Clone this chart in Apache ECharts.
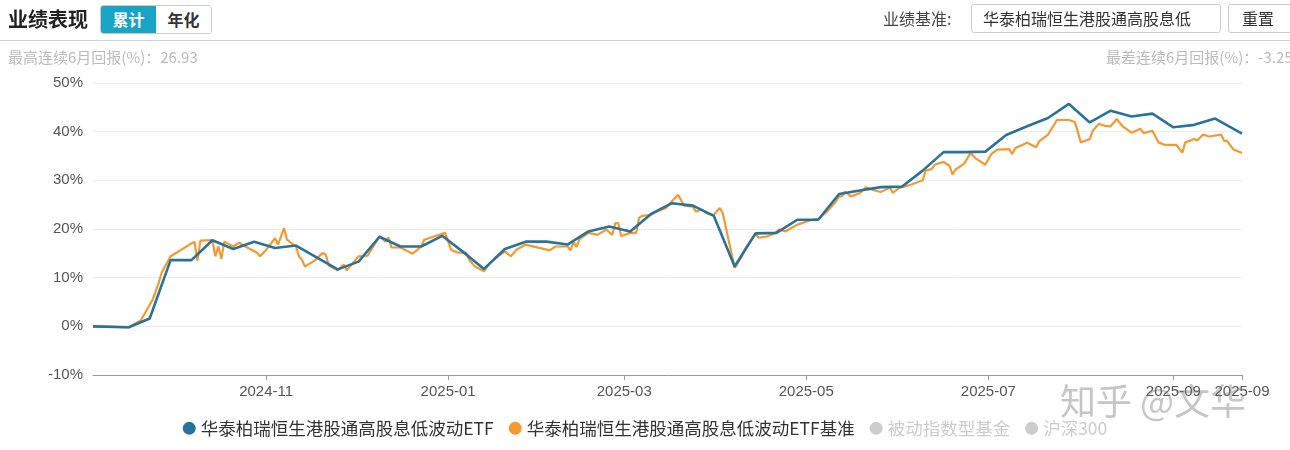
<!DOCTYPE html>
<html><head><meta charset="utf-8">
<script src="https://cdn.jsdelivr.net/npm/echarts@6/dist/echarts.min.js"></script>
<style>
html,body{margin:0;padding:0;width:1290px;height:450px;overflow:hidden;background:#fff;font-family:"Noto Sans CJK SC","Liberation Sans",sans-serif;}
#chart{position:absolute;left:0;top:0;width:1290px;height:450px;}
.abs{position:absolute;white-space:nowrap;z-index:5;}
#title{left:8px;top:4px;font-size:20px;font-weight:bold;color:#222;line-height:30px;}
#tabs{left:100px;top:5px;height:29px;border:1px solid #ccc;border-radius:3px;display:flex;overflow:hidden;box-sizing:border-box;width:112px;}
#tabs span{display:block;width:55px;text-align:center;font-size:16px;font-weight:bold;line-height:27px;}
.on{background:#18a4c4;color:#fff;}
.off{background:#fff;color:#333;}
#benchLabel{left:883px;top:4px;font-size:16px;color:#444;line-height:29px;}
#benchBox{left:971px;top:4px;width:250px;height:29px;border:1px solid #ccc;border-radius:3px;font-size:16px;color:#333;line-height:27px;padding-left:11px;overflow:hidden;box-sizing:border-box;}
#reset{left:1228px;top:4px;width:70px;height:29px;border:1px solid #ccc;border-radius:3px;font-size:16px;color:#333;line-height:27px;padding-left:13px;box-sizing:border-box;}
#hr{left:0;top:40px;width:1290px;height:1px;background:#d0d0d0;}
#best{left:8px;top:47px;font-size:15px;color:#bbb;line-height:20px;}
#worst{left:1106px;top:47px;font-size:15px;color:#bbb;line-height:20px;}
</style></head>
<body>
<div id="chart"></div>
<div class="abs" id="title">业绩表现</div>
<div class="abs" id="tabs"><span class="on">累计</span><span class="off">年化</span></div>
<div class="abs" id="benchLabel">业绩基准:</div>
<div class="abs" id="benchBox">华泰柏瑞恒生港股通高股息低</div>
<div class="abs" id="reset">重置</div>
<div class="abs" id="hr"></div>
<div class="abs" id="best">最高连续6月回报(%)：26.93</div>
<div class="abs" id="worst">最差连续6月回报(%)：-3.25</div>
<script>
const seriesNames = ['华泰柏瑞恒生港股通高股息低波动ETF', '华泰柏瑞恒生港股通高股息低波动ETF基准', '被动指数型基金', '沪深300'];
const seriesColors = ['#2a729b', '#f3992f', '#ccc', '#ccc'];

const etfDates = ['2024-09-04','2024-09-16','2024-09-23','2024-09-30','2024-10-07','2024-10-14','2024-10-21','2024-10-28','2024-11-04','2024-11-11','2024-11-25','2024-12-02','2024-12-09','2024-12-16','2024-12-23','2024-12-30','2025-01-06','2025-01-13','2025-01-20','2025-01-27','2025-02-03','2025-02-10','2025-02-17','2025-02-24','2025-03-03','2025-03-10','2025-03-17','2025-03-24','2025-03-31','2025-04-07','2025-04-14','2025-04-21','2025-04-28','2025-05-05','2025-05-12','2025-05-19','2025-05-26','2025-06-02','2025-06-09','2025-06-16','2025-06-23','2025-06-30','2025-07-07','2025-07-14','2025-07-21','2025-07-28','2025-08-04','2025-08-11','2025-08-18','2025-08-25','2025-09-01','2025-09-08','2025-09-15','2025-09-24'];
const etfValues = [0,-0.2,1.6,13.6,13.6,17.7,15.9,17.4,16.1,16.6,11.7,13.3,18.4,16.4,16.4,18.6,15.3,11.8,15.9,17.4,17.4,16.8,19.5,20.5,19.5,23.1,25.3,24.8,22.7,12.3,19.1,19.2,21.9,21.9,27.2,27.9,28.6,28.7,32.0,35.8,35.8,35.9,39.3,41.1,42.8,45.7,41.9,44.3,43.1,43.7,40.9,41.4,42.7,39.6];

const benchDates = ['2024-09-04','2024-09-16','2024-09-20','2024-09-24','2024-09-26','2024-09-27','2024-09-30','2024-10-08','2024-10-09','2024-10-10','2024-10-14','2024-10-15','2024-10-16','2024-10-17','2024-10-18','2024-10-21','2024-10-23','2024-10-25','2024-10-29','2024-10-30','2024-11-01','2024-11-04','2024-11-05','2024-11-07','2024-11-08','2024-11-11','2024-11-12','2024-11-13','2024-11-14','2024-11-17','2024-11-20','2024-11-21','2024-11-22','2024-11-25','2024-11-27','2024-11-28','2024-12-02','2024-12-05','2024-12-09','2024-12-11','2024-12-12','2024-12-13','2024-12-16','2024-12-18','2024-12-20','2024-12-23','2024-12-24','2024-12-28','2024-12-31','2025-01-02','2025-01-04','2025-01-07','2025-01-08','2025-01-10','2025-01-13','2025-01-15','2025-01-18','2025-01-20','2025-01-22','2025-01-24','2025-01-27','2025-02-04','2025-02-06','2025-02-10','2025-02-11','2025-02-12','2025-02-13','2025-02-14','2025-02-17','2025-02-20','2025-02-23','2025-02-25','2025-02-26','2025-02-27','2025-02-28','2025-03-03','2025-03-05','2025-03-06','2025-03-07','2025-03-10','2025-03-12','2025-03-15','2025-03-17','2025-03-19','2025-03-20','2025-03-21','2025-03-24','2025-03-25','2025-03-27','2025-03-29','2025-03-31','2025-04-02','2025-04-03','2025-04-07','2025-04-09','2025-04-11','2025-04-14','2025-04-15','2025-04-18','2025-04-20','2025-04-22','2025-04-24','2025-04-26','2025-04-28','2025-05-03','2025-05-05','2025-05-08','2025-05-11','2025-05-12','2025-05-13','2025-05-14','2025-05-16','2025-05-19','2025-05-21','2025-05-23','2025-05-26','2025-05-29','2025-05-30','2025-06-01','2025-06-05','2025-06-09','2025-06-10','2025-06-12','2025-06-13','2025-06-16','2025-06-18','2025-06-19','2025-06-20','2025-06-23','2025-06-25','2025-06-27','2025-06-30','2025-07-02','2025-07-04','2025-07-08','2025-07-09','2025-07-10','2025-07-14','2025-07-17','2025-07-18','2025-07-21','2025-07-24','2025-07-28','2025-07-30','2025-08-01','2025-08-04','2025-08-05','2025-08-07','2025-08-09','2025-08-11','2025-08-13','2025-08-15','2025-08-18','2025-08-21','2025-08-22','2025-08-25','2025-08-27','2025-08-29','2025-09-02','2025-09-04','2025-09-05','2025-09-08','2025-09-09','2025-09-11','2025-09-13','2025-09-17','2025-09-18','2025-09-19','2025-09-21','2025-09-24'];
const benchValues = [0,-0.2,1.2,5.5,8.9,11.0,14.4,17.4,13.5,17.6,17.7,14.4,16.4,13.9,17.4,16.4,17.2,16.4,15.1,14.4,15.7,18.1,16.8,20.2,17.8,16.4,14.4,13.7,12.3,13.4,15.1,14.7,12.5,11.5,12.7,11.5,14.4,14.5,18.5,17.4,18.3,16.2,16.2,15.6,14.9,16.4,17.8,18.6,19.2,15.7,15.2,15.1,13.7,12.3,11.3,13.0,14.5,15.4,14.4,15.8,16.8,15.6,16.4,16.4,15.6,17.3,16.3,17.9,19.2,18.8,19.9,18.8,21.2,21.2,18.5,19.2,19.2,22.3,22.7,22.9,23.6,24.3,25.7,27.0,26.0,24.8,24.6,23.6,24.0,23.1,22.9,24.3,23.3,12.0,14.0,16.4,19.0,18.2,18.5,19.0,19.9,19.5,20.2,20.9,21.9,22.0,23.6,25.7,26.7,26.7,27.7,26.7,27.4,28.6,28.1,27.6,28.5,27.4,28.4,29.1,30.0,32.0,32.3,33.2,33.8,33.0,31.2,32.2,33.5,35.6,34.4,33.2,35.4,36.3,36.4,35.4,36.6,37.7,36.8,38.0,39.4,42.4,42.4,42.0,37.8,38.5,40.2,41.6,41.2,41.1,42.6,41.1,39.8,40.6,39.7,40.2,37.8,37.3,37.3,35.7,37.8,38.5,38.2,39.4,39.0,39.4,38.1,38.1,36.4,35.6];

const xTickDates = ['2024-11-01','2025-01-01','2025-03-01','2025-05-01','2025-07-01','2025-09-01','2025-09-24'];
const xRange = ['2024-09-04','2025-09-24'];
const yRange = [-10, 50];
const yStep = 10;

function pairs(ds, vs) { return ds.map((d, i) => [ts(d), vs[i]]); }
function ts(s) { const p = s.split('-').map(Number); return new Date(p[0], p[1]-1, p[2]).getTime(); }
function pad(n) { return (n < 10 ? '0' : '') + n; }

const chart = echarts.init(document.getElementById('chart'), null, {renderer: 'canvas'});
const tickVals = xTickDates.map(ts);
chart.setOption({
  animation: false,
  textStyle: {fontFamily: '"Noto Sans CJK SC","Liberation Sans",sans-serif'},
  grid: {left: 93, right: 48, top: 83, bottom: 75, containLabel: false},
  legend: {
    data: seriesNames, left: 'center', bottom: 8, icon: 'circle', itemWidth: 13, itemHeight: 13, itemGap: 15,
    textStyle: {fontSize: 17.5, color: '#333', fontFamily: '"Noto Sans CJK SC",sans-serif'},
    inactiveColor: '#ccc',
    selected: {'被动指数型基金': false, '沪深300': false}
  },
  xAxis: {
    type: 'value', min: ts(xRange[0]), max: ts(xRange[1]),
    axisLine: {onZero: false, lineStyle: {color: '#999'}},
    axisTick: {show: true, customValues: tickVals, length: 5, lineStyle: {color: '#999'}},
    axisLabel: {customValues: tickVals, color: '#555', fontSize: 15, margin: 9, fontFamily: '"Liberation Sans",sans-serif',
      formatter: function (v) { const d = new Date(v); return d.getFullYear() + '-' + pad(d.getMonth() + 1); }},
    splitLine: {show: false}
  },
  yAxis: {
    type: 'value', min: yRange[0], max: yRange[1], interval: yStep,
    axisLine: {show: false}, axisTick: {show: false},
    axisLabel: {color: '#555', fontSize: 15, margin: 10, formatter: '{value}%', fontFamily: '"Liberation Sans",sans-serif'},
    splitLine: {lineStyle: {color: '#ececec'}}
  },
  graphic: [{type: 'text', right: 44, top: 383, z: 100, silent: true,
    style: {text: '知乎 @文华', fontSize: 36, fill: 'rgba(120,120,120,0.42)', fontFamily: '"Noto Sans CJK SC",sans-serif'}}],
  series: [
    {name: seriesNames[0], type: 'line', data: pairs(etfDates, etfValues), showSymbol: false, z: 4,
      color: seriesColors[0], lineStyle: {width: 2.6, color: seriesColors[0]}},
    {name: seriesNames[1], type: 'line', data: pairs(benchDates, benchValues), showSymbol: false, z: 3,
      color: seriesColors[1], lineStyle: {width: 2.2, color: seriesColors[1]}},
    {name: seriesNames[2], type: 'line', data: [], color: seriesColors[2]},
    {name: seriesNames[3], type: 'line', data: [], color: seriesColors[3]}
  ]
});
</script>
</body></html>
